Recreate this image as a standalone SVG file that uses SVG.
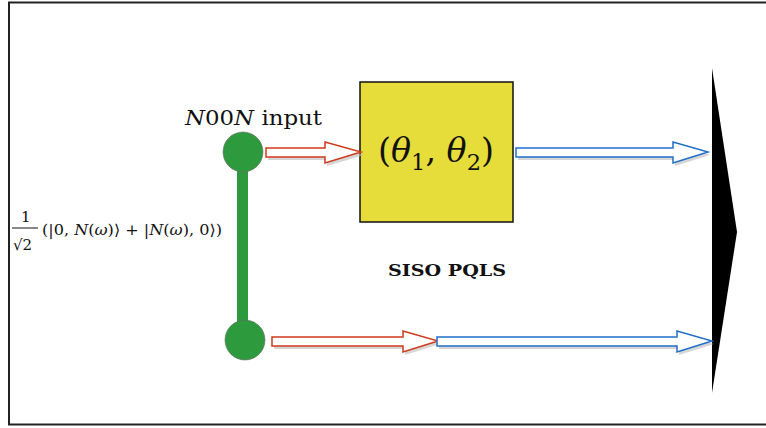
<svg xmlns="http://www.w3.org/2000/svg" width="766" height="428" viewBox="0 0 766 428">
<style>
.serif{font-family:"DejaVu Serif","Liberation Serif",serif;fill:#111}
.it{font-style:italic}
.red{fill:#fff;stroke:#d03a1c;stroke-width:1.5}
.blue{fill:#fff;stroke:#1f6fc8;stroke-width:1.5}
.shadow{fill:#bbb;stroke:none;opacity:0.6}
</style>
<rect x="0" y="0" width="766" height="428" fill="#fff"/>
<rect x="9" y="2.5" width="800" height="422" fill="none" stroke="#222" stroke-width="2"/>
<g id="source">
<rect x="237" y="160" width="11" height="175" fill="#2e9a3e"/>
<circle cx="243" cy="152" r="20" fill="#2e9a3e" stroke="#6a6a6a" stroke-width="0.6"/>
<circle cx="245" cy="340" r="20" fill="#2e9a3e" stroke="#6a6a6a" stroke-width="0.6"/>
</g>
<g id="label-input">
<text class="serif" x="185" y="125" font-size="20" textLength="137" lengthAdjust="spacingAndGlyphs"><tspan class="it">N</tspan>00<tspan class="it">N</tspan> input</text>
</g>
<g id="label-state">
<text class="serif" x="21" y="222" font-size="15">1</text>
<line x1="12" y1="228" x2="38" y2="228" stroke="#111" stroke-width="1"/>
<text class="serif" x="13" y="250" font-size="15">√2</text>
<text class="serif" x="42" y="235" font-size="15" textLength="180" lengthAdjust="spacingAndGlyphs">(|0, <tspan class="it">N</tspan>(<tspan class="it">ω</tspan>)⟩ + |<tspan class="it">N</tspan>(<tspan class="it">ω</tspan>), 0⟩)</text>
</g>
<g id="box">
<rect x="360" y="82" width="153" height="140" fill="#e6dc3a" stroke="#111" stroke-width="1.5"/>
<text class="serif" x="378" y="162" font-size="34" textLength="116" lengthAdjust="spacingAndGlyphs">(<tspan class="it">θ</tspan><tspan font-size="23" dy="8">1</tspan><tspan dy="-8">, </tspan><tspan class="it">θ</tspan><tspan font-size="23" dy="8">2</tspan><tspan dy="-8">)</tspan></text>
</g>
<g id="label-siso">
<text class="serif" x="388" y="276" font-size="16" font-weight="bold" textLength="118" lengthAdjust="spacingAndGlyphs">SISO PQLS</text>
</g>
<g id="detector">
<polygon points="712,68 737,232 712,393" fill="#000"/>
</g>
<g id="connectors">
<polygon class="shadow" points="268,150 327,150 327,144 364,155 327,166 327,160 268,160"/>
<polygon class="red" points="266,148 325,148 325,142 361,152 325,163 325,157 266,157"/>
<polygon class="shadow" points="518,150 675,150 675,144 710,155 675,166 675,160 518,160"/>
<polygon class="blue" points="516,148 673,148 673,142 708,152 673,163 673,157 516,157"/>
<polygon class="shadow" points="274,339 405,339 405,333 440,344 405,355 405,349 274,349"/>
<polygon class="red" points="272,337 403,337 403,331 438,341 403,352 403,346 272,346"/>
<polygon class="shadow" points="439,339 679,339 679,333 714,344 679,355 679,349 439,349"/>
<polygon class="blue" points="437,337 677,337 677,331 712,341 677,352 677,346 437,346"/>
</g>
</svg>
